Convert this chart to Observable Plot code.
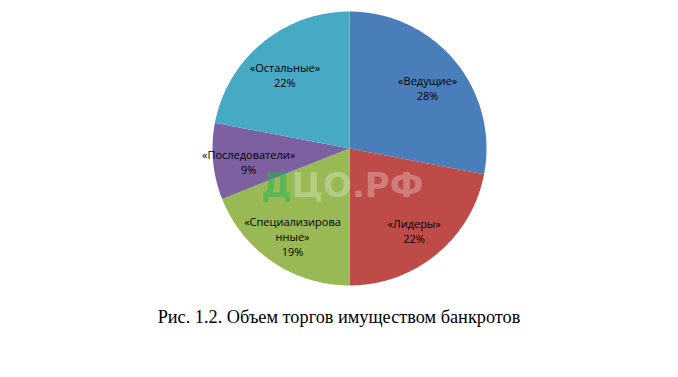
<!DOCTYPE html>
<html>
<head>
<meta charset="utf-8">
<script src="https://cdn.jsdelivr.net/npm/d3@7"></script>
<script src="https://cdn.jsdelivr.net/npm/@observablehq/plot@0.6"></script>
<style>
  html, body { margin: 0; padding: 0; background: #fff; }
  #chart { width: 678px; height: 300px; }
  #caption { width: 678px; text-align: center; font-family: "Liberation Serif", "Times New Roman", serif; font-size: 18.3px; line-height: 20px; margin-top: 7px; color: #000; }
</style>
</head>
<body>
<div id="chart"></div>
<div id="caption">Рис. 1.2. Объем торгов имуществом банкротов</div>
<script>
// ---- data ----
const categories = ["«Ведущие»", "«Лидеры»", "«Специализирова\nнные»", "«Последователи»", "«Остальные»"];
const values = [28, 22, 19, 9, 22];
const colors = ["#4A7EBB", "#BE4B48", "#98B954", "#7D60A0", "#46AAC5"];
const watermark = ["Д", "ЦО.РФ"];

// ---- layout ----
const W = 678, H = 300;
const cx = 349, cy = 148, R = 137;
const labelR = 0.74;

const pie = d3.pie().sort(null).value(d => d)(values);
const features = pie.map((p, i) => {
  const n = Math.max(8, Math.ceil((p.endAngle - p.startAngle) * 60));
  const pts = [[0, 0]];
  for (let k = 0; k <= n; k++) {
    const a = p.startAngle + (p.endAngle - p.startAngle) * k / n;
    pts.push([Math.sin(a), -Math.cos(a)]);
  }
  pts.push([0, 0]);
  return {type: "Feature", properties: {i}, geometry: {type: "Polygon", coordinates: [pts]}};
});
const labels = pie.map((p, i) => {
  const a = (p.startAngle + p.endAngle) / 2;
  return {x: labelR * Math.sin(a), y: -labelR * Math.cos(a), text: categories[i] + "\n" + values[i] + "%"};
});

const projection = d3.geoIdentity().scale(R).translate([cx, cy]);

const chart = Plot.plot({
  width: W,
  height: H,
  margin: 0,
  projection,
  style: {background: "transparent"},
  marks: [
    Plot.geo(features, {fill: d => colors[d.properties.i], stroke: "none"}),
    Plot.text(labels, {x: "x", y: "y", dy: 4, text: "text", fill: "#000", fontSize: 11, fontFamily: "Open Sans", lineHeight: 1.36}),
    Plot.text([watermark[0]], {frameAnchor: "middle", dx: -48, dy: 36, textAnchor: "end", fontFamily: "DejaVu Sans", fontWeight: "bold", fontSize: 34, fill: "rgb(40,180,80)", fillOpacity: 0.55}),
    Plot.text([watermark[1]], {frameAnchor: "middle", dx: -48, dy: 36, textAnchor: "start", fontFamily: "DejaVu Sans", fontWeight: "bold", fontSize: 34, fill: "#fff", fillOpacity: 0.28})
  ]
});
document.getElementById("chart").appendChild(chart);
</script>
</body>
</html>
